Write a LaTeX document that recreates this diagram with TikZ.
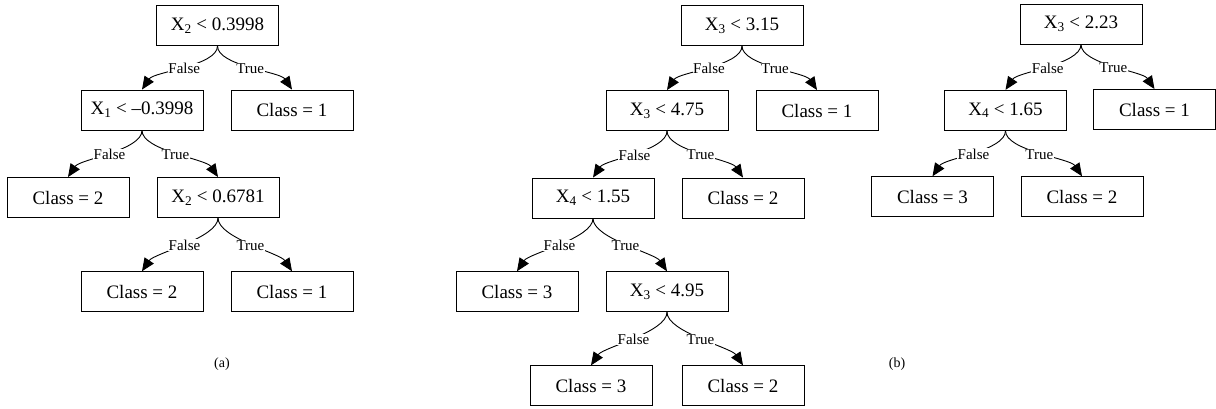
\documentclass[tikz,border=0pt]{standalone}
\usepackage{fontspec}
\setmainfont{Liberation Serif}
\usetikzlibrary{arrows.meta}
\begin{document}
\begin{tikzpicture}[x=1pt,y=-1pt,
  box/.style={draw, line width=0.9pt, minimum width=122pt, minimum height=40pt,
    inner sep=0pt, font=\fontsize{19}{23}\selectfont},
  edge/.style={line width=0.9pt, -{Triangle[length=13pt,width=11pt]}},
  lbl/.style={fill=white, inner sep=0.6pt, font=\fontsize{15}{18}\selectfont},
  subcap/.style={font=\fontsize{14}{16}\selectfont\rmfamily}]
\useasboundingbox (0,0) rectangle (1216,408);

% branch drawing helpers
\newcommand{\falsebranch}[2]{%
  \draw[edge] (#1.south) .. controls +(0,20) and +(12,-18) .. node[lbl]{False} (#2.north);}
\newcommand{\truebranch}[2]{%
  \draw[edge] (#1.south) .. controls +(0,20) and +(-12,-18) .. node[lbl]{True} (#2.north);}

% ---- tree (a)
\node[box] (a0) at (217.5,25.5) {X\textsubscript{2} < 0.3998};
\node[box] (a1) at (142,110) {X\textsubscript{1} < –0.3998};
\node[box] (a2) at (292,110) {Class = 1};
\node[box] (a3) at (68,197.5) {Class = 2};
\node[box] (a4) at (218,197.5) {X\textsubscript{2} < 0.6781};
\node[box] (a5) at (142,291.7) {Class = 2};
\node[box] (a6) at (292,291.7) {Class = 1};
\falsebranch{a0}{a1}\truebranch{a0}{a2}
\falsebranch{a1}{a3}\truebranch{a1}{a4}
\falsebranch{a4}{a5}\truebranch{a4}{a6}
\node[subcap] (capa) at (222,364) {(a)};

% ---- tree (b), left
\node[box] (b0) at (742,25.5) {X\textsubscript{3} < 3.15};
\node[box] (b1) at (667,110.5) {X\textsubscript{3} < 4.75};
\node[box] (b2) at (817,110.5) {Class = 1};
\node[box] (b3) at (593,198) {X\textsubscript{4} < 1.55};
\node[box] (b4) at (743,198) {Class = 2};
\node[box] (b5) at (517,291.7) {Class = 3};
\node[box] (b6) at (667,291.7) {X\textsubscript{3} < 4.95};
\node[box] (b7) at (591,385.8) {Class = 3};
\node[box] (b8) at (743,385.8) {Class = 2};
\falsebranch{b0}{b1}\truebranch{b0}{b2}
\falsebranch{b1}{b3}\truebranch{b1}{b4}
\falsebranch{b3}{b5}\truebranch{b3}{b6}
\falsebranch{b6}{b7}\truebranch{b6}{b8}

% ---- tree (b), right
\node[box] (c0) at (1081,24) {X\textsubscript{3} < 2.23};
\node[box] (c1) at (1005.5,110.3) {X\textsubscript{4} < 1.65};
\node[box] (c2) at (1154.5,109.5) {Class = 1};
\node[box] (c3) at (932.5,196.7) {Class = 3};
\node[box] (c4) at (1082,196.7) {Class = 2};
\falsebranch{c0}{c1}\truebranch{c0}{c2}
\falsebranch{c1}{c3}\truebranch{c1}{c4}
\node[subcap] (capb) at (897,364) {(b)};
\end{tikzpicture}
\end{document}
